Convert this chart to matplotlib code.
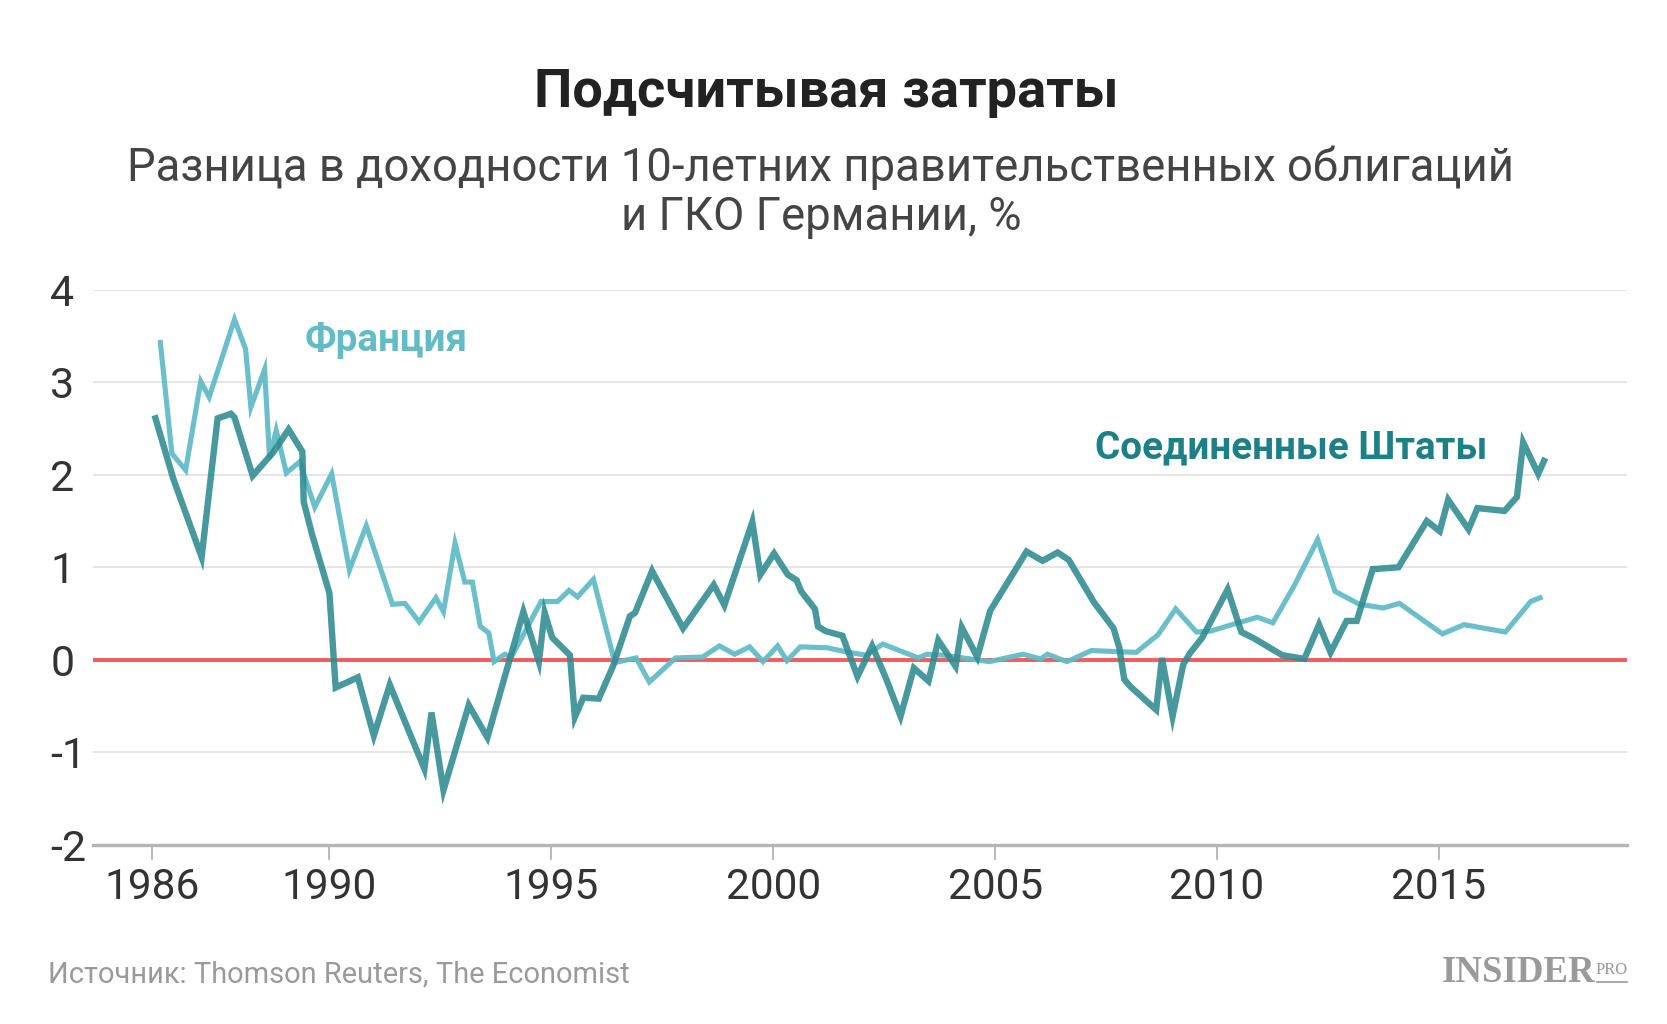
import matplotlib
matplotlib.use("Agg")
import matplotlib.pyplot as plt
from matplotlib.lines import Line2D

plt.rcParams['font.family'] = ['Roboto', 'DejaVu Sans']

# yield spread vs German bunds, %
usa_years = [1986.08, 1986.48, 1987.12, 1987.48, 1987.78, 1987.86, 1988.27, 1988.73, 1989.08, 1989.39,
             1989.42, 1989.60, 1990.00, 1990.14, 1990.64, 1991.00, 1991.36, 1992.14, 1992.30, 1992.57,
             1993.14, 1993.56, 1994.37, 1994.72, 1994.85, 1995.02, 1995.42, 1995.53, 1995.72, 1996.07,
             1996.39, 1996.77, 1996.89, 1997.27, 1997.97, 1998.66, 1998.90, 1999.53, 1999.71, 2000.02,
             2000.33, 2000.53, 2000.63, 2000.94, 2001.01, 2001.18, 2001.56, 2001.90, 2002.23, 2002.55,
             2002.87, 2003.17, 2003.50, 2003.72, 2004.11, 2004.25, 2004.60, 2004.89, 2005.71, 2006.07,
             2006.41, 2006.66, 2007.23, 2007.67, 2007.80, 2007.91, 2008.05, 2008.63, 2008.76, 2009.00,
             2009.24, 2009.39, 2009.67, 2010.24, 2010.55, 2010.84, 2011.47, 2011.97, 2012.30, 2012.56,
             2012.92, 2013.15, 2013.51, 2014.09, 2014.73, 2015.02, 2015.21, 2015.67, 2015.87, 2016.48,
             2016.76, 2016.90, 2017.24, 2017.37]
usa_values = [2.61, 1.96, 1.11, 2.61, 2.66, 2.62, 1.99, 2.24, 2.49, 2.25,
              1.71, 1.37, 0.72, -0.30, -0.19, -0.82, -0.27, -1.18, -0.57, -1.41,
              -0.49, -0.84, 0.52, -0.02, 0.51, 0.24, 0.05, -0.62, -0.41, -0.42,
              -0.07, 0.47, 0.51, 0.96, 0.34, 0.81, 0.59, 1.49, 0.92, 1.15,
              0.92, 0.86, 0.74, 0.55, 0.36, 0.31, 0.26, -0.18, 0.15, -0.21,
              -0.61, -0.09, -0.23, 0.21, -0.07, 0.35, 0.03, 0.53, 1.17, 1.07,
              1.16, 1.08, 0.62, 0.34, 0.13, -0.21, -0.29, -0.54, 0.02, -0.61,
              -0.05, 0.07, 0.24, 0.76, 0.30, 0.23, 0.05, 0.01, 0.38, 0.08,
              0.42, 0.42, 0.98, 1.00, 1.50, 1.39, 1.73, 1.41, 1.64, 1.61,
              1.76, 2.35, 2.01, 2.15]

france_years = [1986.19, 1986.45, 1986.76, 1987.10, 1987.29, 1987.86, 1988.11, 1988.23, 1988.54, 1988.65,
                1988.80, 1989.03, 1989.33, 1989.67, 1990.05, 1990.45, 1990.83, 1991.42, 1991.70, 1992.02,
                1992.40, 1992.57, 1992.83, 1993.05, 1993.22, 1993.40, 1993.59, 1993.71, 1993.95, 1994.10,
                1994.77, 1995.14, 1995.40, 1995.59, 1995.95, 1996.43, 1996.91, 1997.21, 1997.80, 1998.41,
                1998.79, 1999.13, 1999.47, 1999.77, 2000.10, 2000.31, 2000.61, 2001.22, 2001.60, 2002.09,
                2002.47, 2003.27, 2003.46, 2003.84, 2004.87, 2005.63, 2006.03, 2006.18, 2006.62, 2007.17,
                2008.18, 2008.67, 2009.07, 2009.54, 2009.85, 2010.91, 2011.26, 2011.74, 2012.27, 2012.66,
                2013.21, 2013.75, 2014.11, 2015.08, 2015.57, 2016.50, 2017.07, 2017.28]
france_values = [3.43, 2.23, 2.05, 3.01, 2.84, 3.68, 3.36, 2.73, 3.14, 2.18,
                 2.48, 2.02, 2.14, 1.65, 2.01, 0.97, 1.45, 0.60, 0.61, 0.41,
                 0.67, 0.52, 1.26, 0.84, 0.84, 0.36, 0.29, -0.02, 0.06, 0.03,
                 0.63, 0.63, 0.75, 0.68, 0.87, -0.03, 0.02, -0.24, 0.02, 0.03,
                 0.15, 0.06, 0.14, -0.02, 0.15, -0.01, 0.14, 0.13, 0.09, 0.05,
                 0.17, 0.02, 0.06, 0.05, -0.02, 0.06, 0.01, 0.06, -0.02, 0.10,
                 0.08, 0.27, 0.55, 0.30, 0.31, 0.46, 0.40, 0.80, 1.30, 0.74,
                 0.60, 0.56, 0.61, 0.28, 0.38, 0.30, 0.63, 0.67]

x_ticks = [1986, 1990, 1995, 2000, 2005, 2010, 2015]
y_ticks = [-2, -1, 0, 1, 2, 3, 4]

FRANCE_COLOR = '#62bcc7'
USA_COLOR = '#2f8b90'
USA_LABEL_COLOR = '#1d8086'

fig = plt.figure(figsize=(16.67, 10.24), dpi=100)
ax = fig.add_axes([0.056, 0.175, 0.92, 0.542])

ax.plot(france_years, france_values, color=FRANCE_COLOR, lw=3.7, alpha=0.95,
        solid_joinstyle='miter', zorder=3)
ax.plot(usa_years, usa_values, color=USA_COLOR, lw=4.6, alpha=0.88,
        solid_joinstyle='miter', zorder=4)
ax.axhline(0, color='#f25c5c', lw=2.8, zorder=2)

ax.set_xlim(1984.68, 2019.24)
ax.set_ylim(-2, 4)
ax.set_xticks(x_ticks)
ax.set_xticklabels([str(t) for t in x_ticks])
ax.set_yticks(y_ticks)
ax.set_yticklabels([str(t) for t in y_ticks], ha='left')

ax.grid(axis='y', color='#e0e0e0', lw=1.2)
ax.set_axisbelow(True)
for side in ['top', 'left', 'right']:
    ax.spines[side].set_visible(False)
ax.spines['bottom'].set_color('#b5b5b5')
ax.spines['bottom'].set_linewidth(2.4)
ax.spines['bottom'].set_zorder(5)

ax.tick_params(axis='x', length=11, width=1.3, color='#b5b5b5', pad=5,
               labelsize=30.5, labelcolor='#333333')
ax.tick_params(axis='y', length=0, pad=31, labelsize=31, labelcolor='#333333')

# series labels
ax.text(1989.45, 3.45, 'Франция', color=FRANCE_COLOR, fontsize=27.8, fontweight='bold',
        ha='left', va='center')
ax.text(2007.26, 2.29, 'Соединенные Штаты', color=USA_LABEL_COLOR, fontsize=27.8,
        fontweight='bold', ha='left', va='center')

# titles
fig.text(0.4955, 0.910, 'Подсчитывая затраты', fontsize=39, fontweight='bold',
         color='#222222', ha='center', va='center')
fig.text(0.4925, 0.812, 'Разница в доходности 10-летних правительственных облигаций\nи ГКО Германии, %',
         fontsize=32.8, color='#444444', ha='center', va='center', linespacing=1.15)

# footer
fig.text(0.0287, 0.048, 'Источник: Thomson Reuters, The Economist', fontsize=20.9,
         color='#9a9a9a', ha='left', va='center')
fig.text(0.957, 0.050, 'INSIDER', fontsize=26.5, fontweight='bold', color='#9a9a9a',
         family='Liberation Serif', ha='right', va='center')
fig.text(0.9765, 0.053, 'PRO', fontsize=12, color='#9a9a9a', family='Liberation Serif',
         ha='right', va='center')
fig.add_artist(Line2D([0.958, 0.976], [0.041, 0.041], transform=fig.transFigure,
                      color='#9a9a9a', lw=1.2))

fig.savefig('out.png', dpi=100, facecolor='white')
